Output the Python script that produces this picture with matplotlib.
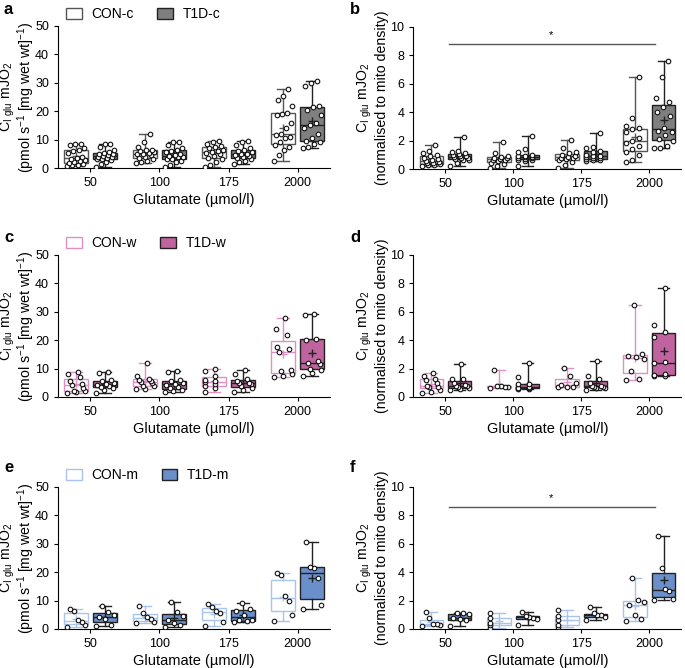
import numpy as np
import matplotlib
matplotlib.use('Agg')
import matplotlib.pyplot as plt
from matplotlib.patches import Patch

plt.rcParams['font.family'] = ['Liberation Sans', 'DejaVu Sans']
plt.rcParams['mathtext.default'] = 'regular'

conc_labels = ['50', '100', '175', '2000']

# a: CON-c / T1D-c  (pmol s-1 [mg wet wt]-1)
a_con = [[0.8, 1.0, 1.2, 1.5, 1.8, 2.0, 2.3, 2.8, 3.2, 3.5, 4.0, 5.2, 6.0, 6.5, 7.2, 8.0, 8.4, 8.5],
         [1.8, 2.0, 2.5, 3.0, 3.5, 4.0, 4.5, 4.8, 5.0, 5.2, 5.5, 6.0, 6.2, 6.3, 7.5, 9.0, 11.8],
         [0.5, 1.2, 2.0, 3.0, 3.5, 4.2, 4.8, 5.3, 5.6, 6.0, 6.5, 7.0, 7.5, 7.8, 8.5, 9.0, 9.6],
         [2.6, 4.5, 6.5, 7.5, 8.0, 9.0, 10.5, 11.0, 11.5, 12.0, 14.0, 16.0, 18.5, 19.0, 19.5, 22.0, 24.0, 25.5, 27.8]]
a_t1d = [[0.5, 1.5, 2.0, 2.8, 3.0, 3.3, 3.6, 3.9, 4.0, 4.2, 4.5, 4.8, 5.0, 5.3, 5.6, 6.5, 7.5, 8.4, 8.6],
         [0.5, 1.2, 2.0, 2.5, 3.0, 3.3, 3.7, 4.0, 4.2, 4.6, 5.0, 5.5, 6.0, 6.3, 7.0, 8.0, 9.0, 9.2],
         [1.4, 2.0, 2.5, 3.0, 3.5, 3.8, 4.2, 4.5, 4.8, 5.0, 5.5, 6.0, 6.5, 7.0, 8.0, 9.0, 9.5],
         [7.0, 7.5, 8.5, 9.0, 9.5, 10.5, 12.0, 14.0, 15.0, 16.0, 18.5, 20.5, 21.5, 22.0, 29.0, 30.0, 30.6]]

# b: CON-c / T1D-c  (normalised to mito density)
b_con = [[0.2, 0.25, 0.3, 0.35, 0.4, 0.45, 0.5, 0.55, 0.6, 0.7, 0.8, 0.9, 1.0, 1.1, 1.3, 1.7],
         [0.05, 0.2, 0.35, 0.45, 0.55, 0.6, 0.65, 0.7, 0.75, 0.8, 0.87, 0.95, 1.1, 1.88],
         [0.1, 0.3, 0.5, 0.65, 0.7, 0.75, 0.8, 0.85, 0.9, 1.0, 1.1, 1.2, 1.5, 2.04],
         [0.5, 0.6, 1.0, 1.2, 1.4, 1.6, 1.8, 2.0, 2.2, 2.6, 2.8, 2.9, 3.0, 3.6, 6.5]]
b_t1d = [[0.2, 0.45, 0.6, 0.65, 0.7, 0.75, 0.8, 0.85, 0.9, 0.95, 1.0, 1.05, 1.1, 1.2, 1.3, 2.28],
         [0.23, 0.55, 0.6, 0.65, 0.7, 0.75, 0.8, 0.82, 0.85, 0.9, 0.95, 1.0, 1.2, 1.4, 2.35],
         [0.55, 0.6, 0.65, 0.7, 0.75, 0.8, 0.85, 0.9, 0.95, 1.0, 1.2, 1.3, 1.5, 1.55, 2.5],
         [1.45, 1.5, 1.6, 2.0, 2.1, 2.4, 2.6, 2.7, 2.9, 3.7, 4.0, 4.4, 4.7, 5.0, 6.5, 7.6]]

# c: CON-w / T1D-w
c_con = [[1.5, 1.8, 2.0, 2.0, 3.2, 4.2, 4.5, 5.5, 7.0, 8.0, 8.7],
         [2.7, 2.8, 3.9, 4.0, 5.0, 5.3, 5.5, 6.0, 6.5, 7.5, 11.9],
         [1.6, 3.0, 3.8, 4.5, 5.2, 5.5, 6.0, 7.5, 9.0, 9.8],
         [7.2, 7.5, 8.0, 9.0, 9.5, 16.0, 16.8, 17.5, 22.0, 24.0, 27.8]]
c_t1d = [[1.5, 2.5, 3.0, 3.5, 4.0, 4.2, 4.5, 5.0, 5.5, 6.0, 8.5, 8.8],
         [1.9, 2.0, 2.5, 3.0, 3.5, 4.3, 4.5, 5.0, 5.5, 6.0, 8.8, 9.1],
         [1.9, 2.5, 3.2, 4.0, 4.5, 4.8, 5.0, 5.5, 6.2, 8.0, 9.5],
         [7.4, 8.5, 9.4, 10.0, 11.5, 12.1, 12.5, 20.0, 20.5, 29.0, 29.2]]

# d: CON-w / T1D-w normalised
d_con = [[0.3, 0.35, 0.5, 0.7, 0.73, 0.8, 1.0, 1.2, 1.3, 1.45, 1.7],
         [0.65, 0.7, 0.72, 0.75, 0.8, 1.9],
         [0.68, 0.7, 0.72, 0.85, 1.0, 1.5, 2.04],
         [1.2, 1.3, 1.8, 2.7, 2.8, 2.9, 3.0, 6.5]]
d_t1d = [[0.47, 0.55, 0.6, 0.7, 0.75, 0.8, 0.85, 1.0, 1.25, 1.3, 2.3],
         [0.55, 0.58, 0.6, 0.62, 0.66, 0.7, 0.9, 0.95, 1.38, 2.37],
         [0.5, 0.6, 0.65, 0.7, 0.72, 0.75, 0.8, 1.0, 1.3, 1.5, 2.5],
         [1.45, 1.5, 1.55, 1.6, 2.4, 2.45, 4.2, 4.6, 5.1, 7.65]]

# e: CON-m / T1D-m
e_con = [[0.8, 1.5, 2.5, 3.3, 6.2, 7.1],
         [2.0, 2.6, 3.5, 4.2, 5.5, 8.2],
         [0.9, 2.5, 5.8, 6.5, 7.8, 8.9],
         [2.8, 5.0, 10.0, 11.5, 19.0, 19.6]]
e_t1d = [[0.9, 1.5, 3.5, 4.1, 5.0, 6.0, 8.0],
         [0.8, 1.5, 2.2, 3.2, 4.5, 6.0, 9.4],
         [2.5, 2.7, 3.0, 3.2, 5.0, 6.5, 7.0, 9.2],
         [7.0, 8.3, 18.0, 21.6, 22.0, 30.6]]

# f: CON-m / T1D-m normalised
f_con = [[0.2, 0.3, 0.32, 0.35, 0.75, 1.18],
         [0.1, 0.3, 0.4, 0.8, 1.15],
         [0.15, 0.3, 0.6, 0.9, 1.33],
         [0.55, 0.7, 1.0, 1.7, 1.9, 2.05, 3.6]]
f_t1d = [[0.21, 0.6, 0.7, 0.75, 1.05, 1.1, 1.15],
         [0.26, 0.7, 0.8, 0.85, 0.9, 1.2],
         [0.66, 0.85, 0.95, 1.0, 1.1, 1.55],
         [2.05, 2.1, 2.65, 2.85, 4.3, 6.55]]

lab_top = 'C$_{I\\ glu}$ mJO$_2$'
lab_wet = '(pmol s$^{-1}$ [mg wet wt]$^{-1}$)'
lab_mito = '(normalised to mito density)'

OFF = 0.21
W = 0.34


def jitter_x(n, pos):
    # spread points across the box in a fixed zig-zag
    if n == 1:
        return np.array([pos])
    k = np.arange(n)
    frac = ((k * 5) % n) / (n - 1) - 0.5
    return pos + frac * W * 0.8


def draw_box(ax, vals, pos, face, edge, line):
    ax.boxplot([vals], positions=[pos], widths=W, whis=(0, 100), showfliers=False,
               showmeans=True, patch_artist=True,
               boxprops=dict(facecolor=face, edgecolor=edge, linewidth=1.0),
               medianprops=dict(color=line, linewidth=1.0),
               whiskerprops=dict(color=line, linewidth=1.0),
               capprops=dict(color=line, linewidth=1.0),
               meanprops=dict(marker='+', markeredgecolor=line, markersize=6, markeredgewidth=1.0),
               manage_ticks=False)
    vals = np.sort(np.array(vals))
    ax.plot(jitter_x(len(vals), pos), vals, 'o', ms=3.3, mfc='white', mec='#111111',
            mew=0.8, zorder=4, linestyle='none')


def panel(ax, con, t1d, con_edge, t1d_face, ymax, ylabel, lab_x, legend=None, sig=None):
    for i in range(4):
        draw_box(ax, con[i], i - OFF, 'white', con_edge, con_edge)
        draw_box(ax, t1d[i], i + OFF, t1d_face, '#222222', '#222222')
    ax.set_xlim(-0.47, 3.47)
    ax.set_ylim(0, ymax)
    ax.set_yticks(np.linspace(0, ymax, 6))
    ax.set_xticks(range(4))
    ax.set_xticklabels(conc_labels)
    ax.spines['top'].set_visible(False)
    ax.spines['right'].set_visible(False)
    ax.tick_params(labelsize=9, length=3, width=0.8)
    ax.set_xlabel('Glutamate (µmol/l)', fontsize=10.5, labelpad=3)
    # two-line y label, placed line by line on their baselines
    for xx, txt in zip(lab_x, [lab_top, ylabel]):
        ax.text(xx, 0.5, txt, transform=ax.transAxes, rotation=90, rotation_mode='anchor',
                ha='center', va='baseline', fontsize=10.2)
    if legend is not None:
        handles = [Patch(facecolor='white', edgecolor=con_edge, linewidth=1.0),
                   Patch(facecolor=t1d_face, edgecolor='#222222', linewidth=1.0)]
        ax.legend(handles, legend, ncol=2, loc='lower left', bbox_to_anchor=(0.01, 0.995),
                  frameon=False, fontsize=10, handlelength=1.1, handleheight=0.8,
                  columnspacing=1.7, handletextpad=0.7, borderaxespad=0)
    if sig is not None:
        ax.plot([0.05, 3.08], [sig, sig], color='#555555', lw=1.0)
        ax.text(1.56, sig + 0.25, '*', ha='center', va='bottom', fontsize=8)


fig = plt.figure(figsize=(6.85, 6.68), dpi=100)
axw, axh = 0.397, 0.2126
ax_a = fig.add_axes([0.0847, 0.7485, axw, axh])
ax_b = fig.add_axes([0.6035, 0.7470, 0.391, axh])
ax_c = fig.add_axes([0.0847, 0.4057, axw, axh])
ax_d = fig.add_axes([0.6035, 0.4057, 0.391, axh])
ax_e = fig.add_axes([0.0847, 0.0584, axw, axh])
ax_f = fig.add_axes([0.6035, 0.0584, 0.391, axh])

gray = '#7f7f7f'
pink = '#c0649f'
pink_l = '#de8fc6'
blue = '#6a8fca'
blue_l = '#a9c4ec'

left_x = (-0.174, -0.100)
right_x = (-0.170, -0.101)
panel(ax_a, a_con, a_t1d, '#555555', gray, 50, lab_wet, left_x, ['CON-c', 'T1D-c'])
panel(ax_b, b_con, b_t1d, '#555555', gray, 10, lab_mito, right_x, sig=8.8)
panel(ax_c, c_con, c_t1d, pink_l, pink, 50, lab_wet, left_x, ['CON-w', 'T1D-w'])
panel(ax_d, d_con, d_t1d, pink_l, pink, 10, lab_mito, right_x)
panel(ax_e, e_con, e_t1d, blue_l, blue, 50, lab_wet, left_x, ['CON-m', 'T1D-m'])
panel(ax_f, f_con, f_t1d, blue_l, blue, 10, lab_mito, right_x, sig=8.6)

for letter, x, y in [('a', 4, 9), ('b', 350, 9), ('c', 4, 238), ('d', 350, 238),
                     ('e', 4, 468), ('f', 350, 468)]:
    fig.text(x / 685, 1 - y / 668, letter, fontsize=12, fontweight='bold', va='center')

fig.savefig('out.png', dpi=100)
